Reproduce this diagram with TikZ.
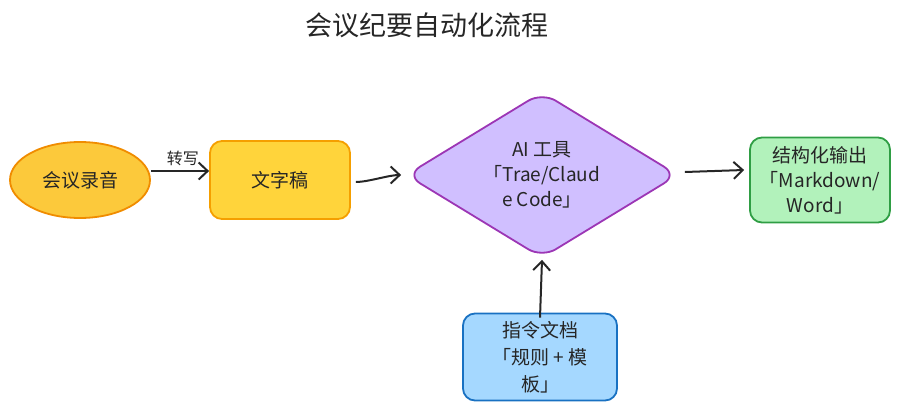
\documentclass[tikz,border=0pt]{standalone}
\usepackage{fontspec}
\setmainfont{Noto Sans CJK SC}
\usetikzlibrary{shapes.geometric,arrows.meta,positioning}
\definecolor{recfill}{HTML}{FCC93B}
\definecolor{recline}{HTML}{F08C00}
\definecolor{txtfill}{HTML}{FFD43B}
\definecolor{txtline}{HTML}{F59F00}
\definecolor{aifill}{HTML}{D0BFFF}
\definecolor{ailine}{HTML}{9C36B5}
\definecolor{outfill}{HTML}{B2F2BB}
\definecolor{outline}{HTML}{2F9E44}
\definecolor{docfill}{HTML}{A5D8FF}
\definecolor{docline}{HTML}{1971C2}
\tikzset{
  flowbox/.style={draw, line width=1.8pt, rounded corners=12pt, align=center,
                  font=\fontsize{19}{25}\selectfont, text=black!85},
  flowarrow/.style={line width=2pt, black!85, -{Straight Barb[length=9pt,width=17pt,line width=2pt]}},
}
\begin{document}
\begin{tikzpicture}[x=1pt,y=-1pt]
\useasboundingbox (0,0) rectangle (901,409);

\node[font=\fontsize{27}{30}\selectfont, text=black!85] (title) at (427,25) {会议纪要自动化流程};

\node[flowbox, ellipse, fill=recfill, draw=recline, minimum width=140pt, minimum height=76pt, inner sep=0pt] (rec) at (80,180) {会议录音};
\node[flowbox, fill=txtfill, draw=txtline, minimum width=140pt, minimum height=78pt] (txt) at (280,180) {文字稿};
\node[flowbox, diamond, aspect=1.65, rounded corners=16pt, fill=aifill, draw=ailine, minimum width=272pt, minimum height=166pt, inner sep=0pt] (ai) at (542,175) {AI 工具\\「Trae/Claud\\e Code」};
\node[flowbox, fill=outfill, draw=outline, minimum width=140pt, minimum height=85pt] (out) at (820,180) {结构化输出\\「Markdown/\\Word」};
\node[flowbox, fill=docfill, draw=docline, minimum width=154pt, minimum height=87pt, font=\fontsize{19}{27}\selectfont] (doc) at (540,357) {指令文档\\「规则 + 模\\板」};

% connectors
\draw[flowarrow] (rec.east) ++(0,-9) -- node[above, font=\fontsize{16}{18}\selectfont, text=black!85, pos=0.55, yshift=1pt] (lbl) {转写} ([yshift=9pt]txt.west);
\draw[flowarrow] ([xshift=5pt,yshift=-2pt]txt.east) .. controls +(12,0) and +(-12,0) .. ([xshift=-4pt]ai.west);
\draw[flowarrow] ([xshift=6pt,yshift=3pt]ai.east) -- ([xshift=-5pt,yshift=10pt]out.west);
\draw[flowarrow] ([yshift=-5pt]doc.north) -- ([yshift=-1pt]ai.south);

\end{tikzpicture}
\end{document}
